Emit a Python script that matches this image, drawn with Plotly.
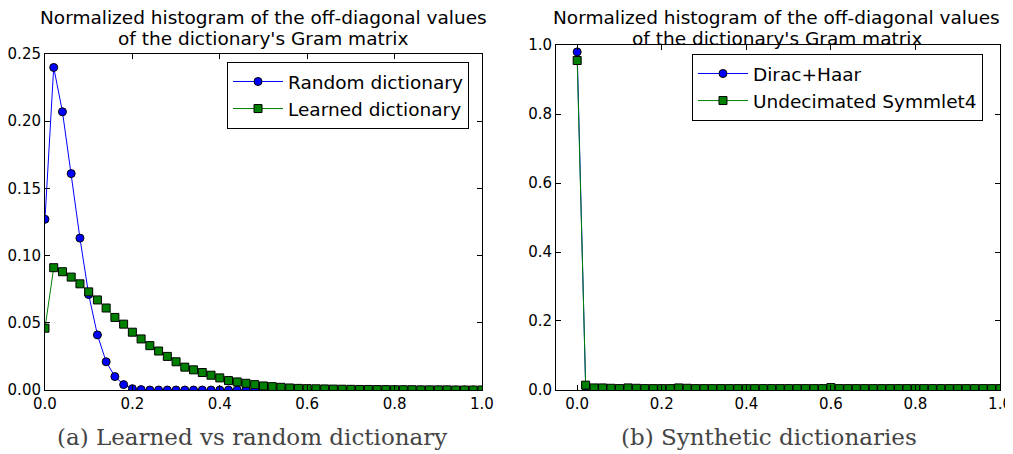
import plotly.graph_objects as go
from plotly.subplots import make_subplots

# histogram bin positions (0.00 .. 1.00, step 0.02)
bins = [round(0.02 * i, 2) for i in range(51)]

# (a) learned vs random dictionary
random_dict = [0.127, 0.240, 0.207, 0.161, 0.113, 0.071, 0.041, 0.021, 0.010, 0.004,
               0.001, 0.0003, 0.0, 0.0, 0.0, 0.0, 0.0, 0.0, 0.0, 0.0,
               0.0, 0.0, 0.0, 0.0, 0.0, 0.0, 0.0, 0.0, 0.0, 0.0,
               0.0, 0.0, 0.0, 0.0, 0.0, 0.0, 0.0, 0.0, 0.0, 0.0,
               0.0, 0.0, 0.0, 0.0, 0.0, 0.0, 0.0, 0.0, 0.0, 0.0, 0.0]
learned_dict = [0.046, 0.091, 0.088, 0.084, 0.079, 0.073, 0.067, 0.061, 0.054, 0.049,
                0.043, 0.038, 0.033, 0.029, 0.025, 0.021, 0.017, 0.015, 0.013, 0.011,
                0.009, 0.007, 0.006, 0.005, 0.004, 0.003, 0.0025, 0.002, 0.0015, 0.0012,
                0.001, 0.0009, 0.0008, 0.0007, 0.0006, 0.0005, 0.0004, 0.0004, 0.0003, 0.0003,
                0.0002, 0.0002, 0.0002, 0.0001, 0.0001, 0.0001, 0.0001, 0.0, 0.0, 0.0, 0.0]

# (b) synthetic dictionaries
dirac_haar = [0.980, 0.010, 0.002, 0.002, 0.002, 0.001, 0.003, 0.001, 0.001, 0.001,
              0.001, 0.001, 0.003, 0.001, 0.001, 0.001, 0.001, 0.001, 0.001, 0.001,
              0.001, 0.001, 0.001, 0.001, 0.001, 0.001, 0.001, 0.001, 0.001, 0.001,
              0.004, 0.001, 0.001, 0.001, 0.001, 0.001, 0.001, 0.001, 0.001, 0.001,
              0.001, 0.001, 0.001, 0.001, 0.001, 0.001, 0.001, 0.001, 0.001, 0.001, 0.001]
symmlet4 = [0.955, 0.014, 0.006, 0.006, 0.005, 0.004, 0.006, 0.005, 0.004, 0.004,
            0.004, 0.004, 0.006, 0.005, 0.004, 0.004, 0.004, 0.004, 0.004, 0.004,
            0.004, 0.004, 0.004, 0.004, 0.004, 0.004, 0.004, 0.004, 0.004, 0.004,
            0.007, 0.004, 0.004, 0.004, 0.004, 0.004, 0.004, 0.004, 0.004, 0.004,
            0.004, 0.004, 0.004, 0.004, 0.004, 0.004, 0.004, 0.004, 0.004, 0.004, 0.004]

title_lines = ["Normalized histogram of the off-diagonal values",
               "of the dictionary's Gram matrix"]
captions = ["(a) Learned vs random dictionary", "(b) Synthetic dictionaries"]

BLUE = "#0000ff"
GREEN = "#008000"
FONT = "DejaVu Sans"

fig = make_subplots(rows=1, cols=2)


def add_series(y, name, color, symbol, col, legend):
    fig.add_trace(go.Scatter(
        x=bins, y=y, name=name, mode="lines+markers",
        line=dict(color=color, width=1),
        marker=dict(symbol=symbol, size=8, color=color, line=dict(color="black", width=1)),
        legend=legend,
    ), row=1, col=col)


add_series(random_dict, "Random dictionary", BLUE, "circle", 1, "legend")
add_series(learned_dict, "Learned dictionary", GREEN, "square", 1, "legend")
add_series(dirac_haar, "Dirac+Haar", BLUE, "circle", 2, "legend2")
add_series(symmlet4, "Undecimated Symmlet4", GREEN, "square", 2, "legend2")

axis_style = dict(showline=True, linecolor="black", linewidth=1, mirror="ticks",
                  ticks="inside", ticklen=5, tickcolor="black", showgrid=False,
                  zeroline=False, automargin=False,
                  tickfont=dict(family=FONT, size=15, color="black"))

fig.update_xaxes(**axis_style)
fig.update_yaxes(**axis_style)
fig.update_xaxes(range=[0, 1], dtick=0.2, tickformat=".1f", domain=[0.0365, 0.4679], row=1, col=1)
fig.update_yaxes(range=[0, 0.25], dtick=0.05, tickformat=".2f", domain=[0.1435, 0.8969], row=1, col=1)
fig.update_xaxes(range=[-0.05, 1], tick0=0, dtick=0.2, tickformat=".1f", domain=[0.541, 0.9793], row=1, col=2)
fig.update_yaxes(range=[0, 1], dtick=0.2, tickformat=".1f", domain=[0.1435, 0.917], row=1, col=2)

legend_style = dict(bgcolor="white", bordercolor="black", borderwidth=1,
                    font=dict(family=FONT, size=18.5, color="black"),
                    xanchor="left", yanchor="top", itemwidth=50)

annotations = []
for cx in [0.2520, 0.7588]:
    for text, cy in zip(title_lines, [0.9776, 0.9327]):
        annotations.append(dict(text=text, x=cx, y=cy, xref="paper", yref="paper",
                                xanchor="center", yanchor="middle", showarrow=False,
                                font=dict(family=FONT, size=18.5, color="black")))
for text, cx in zip(captions, [0.2404, 0.7512]):
    annotations.append(dict(text=text, x=cx, y=0.038, xref="paper", yref="paper",
                            xanchor="center", yanchor="middle", showarrow=False,
                            font=dict(family="DejaVu Serif", size=23, color="#444444")))

# page body adds an 8px margin, so the figure starts 8px in and down
fig.update_layout(
    width=1013, height=446,
    margin=dict(l=0, r=0, t=0, b=0),
    plot_bgcolor="white", paper_bgcolor="white",
    legend=dict(x=0.2162, y=0.879, **legend_style),
    legend2=dict(x=0.6752, y=0.8969, **legend_style),
    annotations=annotations,
)

fig.write_html("out.html")
